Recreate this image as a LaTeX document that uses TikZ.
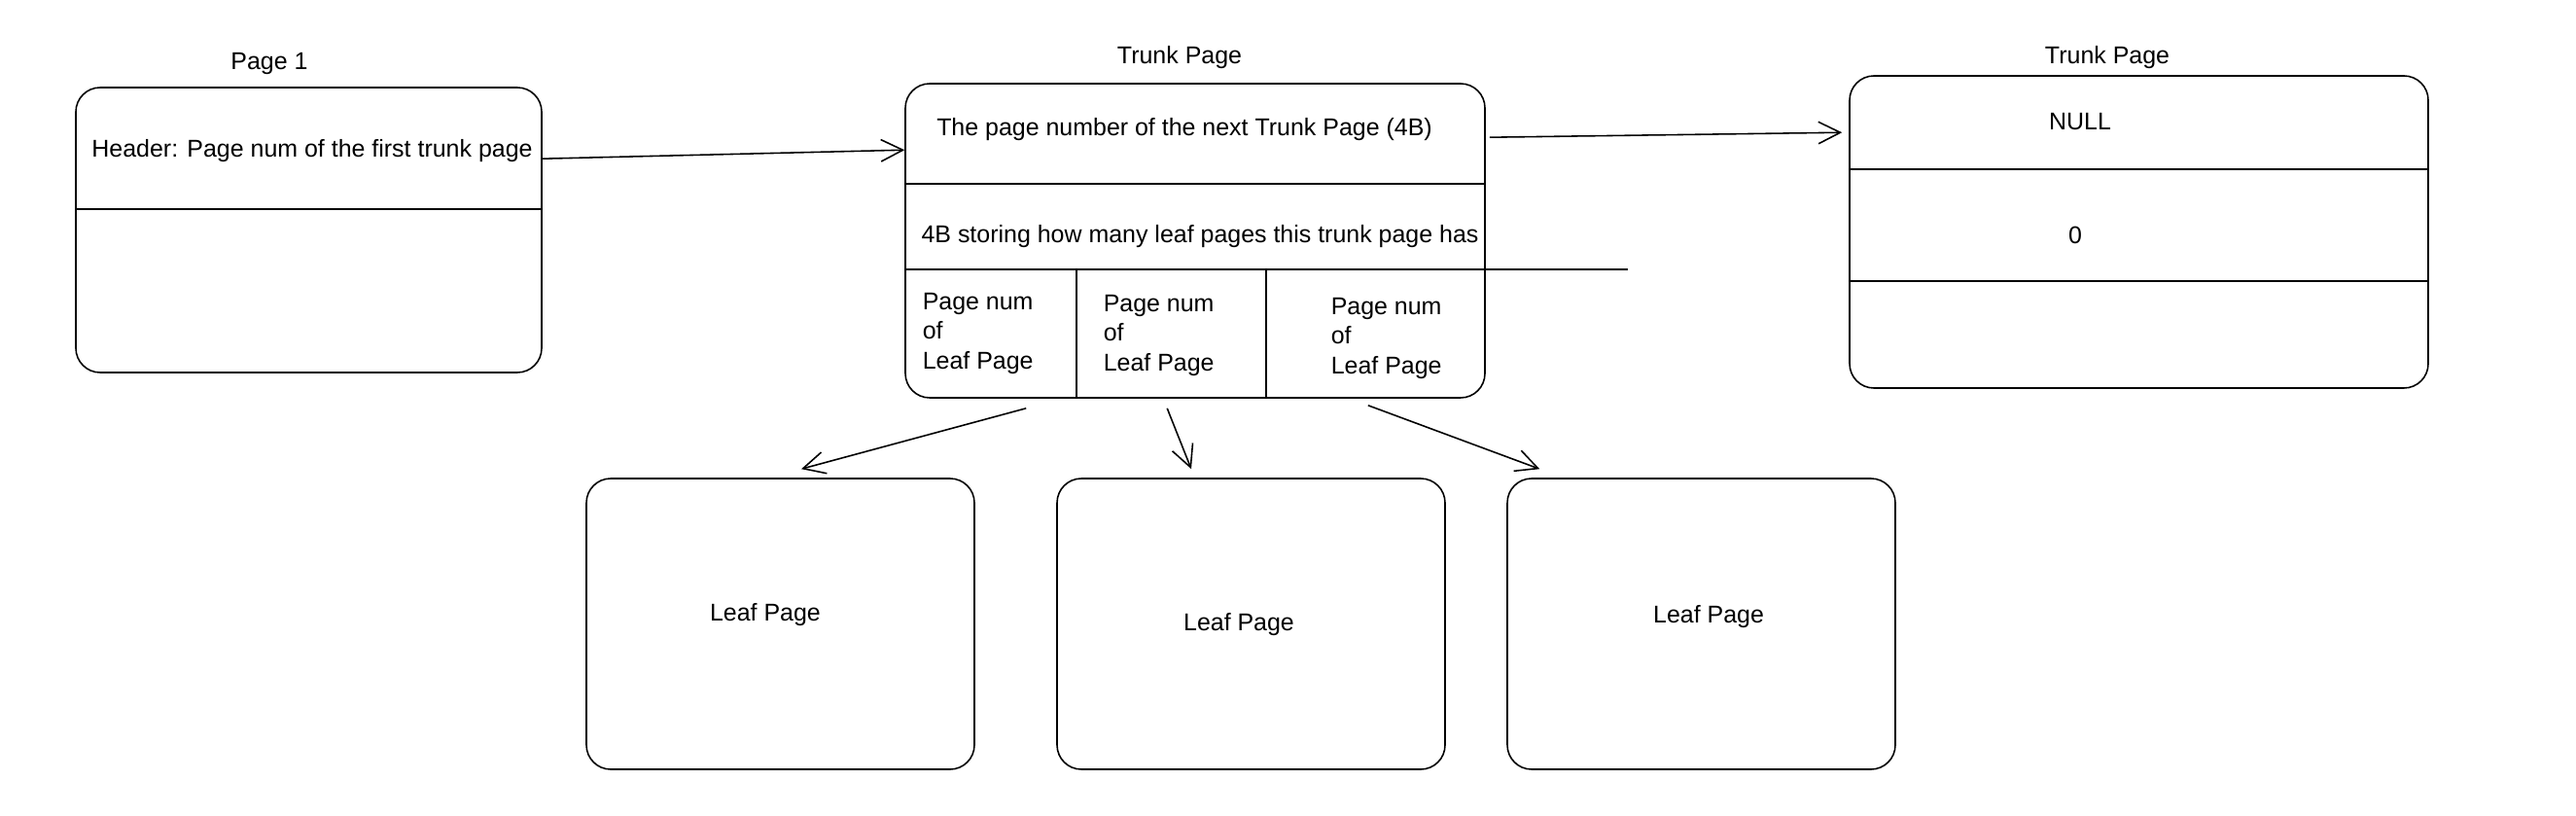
\documentclass[tikz,border=0pt]{standalone}
\usepackage{fontspec}
\setmainfont{Liberation Sans}
\usepackage{tikz}
\usetikzlibrary{
    arrows.meta,
    calc
}

\begin{document}
\begin{tikzpicture}[
    font=\fontsize{14.2}{17.5}\selectfont,
    line width=0.9pt,
    pagebox/.style={draw, rounded corners=0.5cm, inner sep=0pt},
    link/.style={-{Straight Barb[length=0.45cm,width=0.45cm]}},
    cell/.style={align=left, anchor=west, inner sep=0pt}
]

\useasboundingbox (0,0) rectangle (52.98,-16.78);

% Page 1
\node[pagebox, minimum width=9.58cm, minimum height=5.86cm] (p1) at (6.35,-4.73) {};
\node (p1title) at (5.54,-1.32) {Page 1};
\node (p1head) at (6.42,-3.10) {Header: Page num of the first trunk page};
\draw (p1.west |- 0,-4.30) -- (p1.east |- 0,-4.30);

% Trunk page
\node[pagebox, minimum width=11.92cm, minimum height=6.46cm] (tr) at (24.58,-4.95) {};
\node (trtitle) at (24.26,-1.18) {Trunk Page};
\node (trnext) at (24.36,-2.66) {The page number of the next Trunk Page (4B)};
\node (trcount) at (24.68,-4.86) {4B storing how many leaf pages this trunk page has};
\draw (tr.west |- 0,-3.78) -- (tr.east |- 0,-3.78);
\draw (tr.west |- 0,-5.54) -- (33.48,-5.54);
\draw (22.14,-5.54) -- (22.14,0 |- tr.south);
\draw (26.04,-5.54) -- (26.04,0 |- tr.south);

% Leaf page numbers
\node[cell] (cella) at (18.96,-6.86) {Page num\\of\\Leaf Page};
\node[cell] (cellb) at (22.68,-6.90) {Page num\\of\\Leaf Page};
\node[cell] (cellc) at (27.36,-6.96) {Page num\\of\\Leaf Page};

% Next trunk page
\node[pagebox, minimum width=11.90cm, minimum height=6.42cm] (tr2) at (43.99,-4.77) {};
\node (tr2title) at (43.34,-1.18) {Trunk Page};
\node (tr2next) at (42.78,-2.50) {NULL};
\node (tr2count) at (42.68,-4.84) {0};
\draw (tr2.west |- 0,-3.48) -- (tr2.east |- 0,-3.48);
\draw (tr2.west |- 0,-5.78) -- (tr2.east |- 0,-5.78);

% Leaf pages
\foreach \name/\x/\lx/\ly in {leafa/16.05/15.74/-12.64, leafb/25.73/25.48/-12.84, leafc/34.99/35.14/-12.68} {
    \node[pagebox, minimum width=7.98cm, minimum height=5.98cm] (\name) at (\x,-12.83) {};
    \node (\name text) at (\lx,\ly) {Leaf Page};
}

% Arrows
\draw[link] ([yshift=-1.48cm]p1.north east) -- ([yshift=-1.38cm]tr.north west);
\draw[link] ([shift={(0.08,-1.12)}]tr.north east) -- ([shift={(-0.14,-1.18)}]tr2.north west);
\draw[link] ([shift={(2.50,-0.20)}]tr.south west) -- ([shift={(0.43,0.18)}]leafa.north);
\draw[link] ([shift={(5.40,-0.20)}]tr.south west) -- ([shift={(-1.23,0.18)}]leafb.north);
\draw[link] ([shift={(-2.42,-0.14)}]tr.south east) -- ([shift={(0.68,0.18)}]leafc.north west);

\end{tikzpicture}
\end{document}
